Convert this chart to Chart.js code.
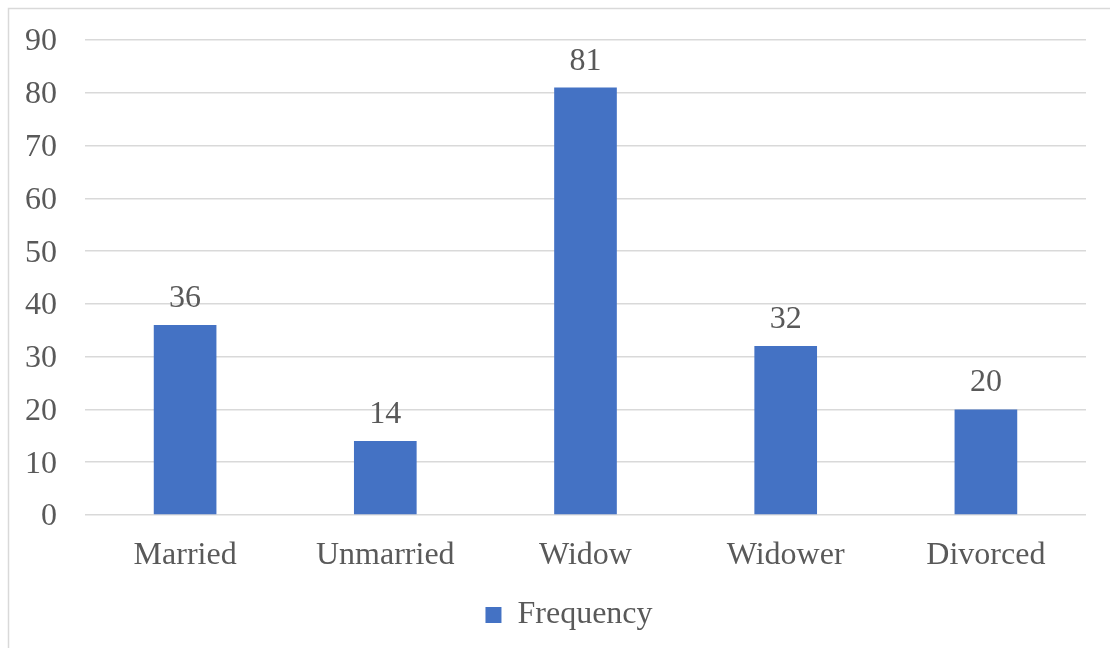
<!DOCTYPE html>
<html>
<head>
<meta charset="utf-8">
<script src="https://cdn.jsdelivr.net/npm/chart.js@4"></script>
<style>
  html, body { margin: 0; padding: 0; background: #ffffff; }
  #wrap { position: relative; width: 1110px; height: 648px; }
</style>
</head>
<body>
<div id="wrap"><canvas id="c"></canvas></div>
<script>
// Marital status counts
const categories = ['Married', 'Unmarried', 'Widow', 'Widower', 'Divorced'];
const frequency = [36, 14, 81, 32, 20];
const seriesName = 'Frequency';
const yTicks = [0, 10, 20, 30, 40, 50, 60, 70, 80, 90];

const FONT = "'Liberation Serif', 'Times New Roman', serif";
const FONT_SIZE = 32;
const TEXT = '#595959';
const GRID = '#d9d9d9';
const BAR = '#4472C4';

// Frame around the chart
const framePlugin = {
  id: 'frame',
  beforeDraw(chart) {
    const ctx = chart.ctx;
    ctx.save();
    ctx.fillStyle = '#ffffff';
    ctx.fillRect(0, 0, chart.width, chart.height);
    ctx.strokeStyle = GRID;
    ctx.lineWidth = 1.5;
    ctx.strokeRect(8.5, 8.5, chart.width + 20, chart.height + 20);
    ctx.restore();
  }
};

// Centre the legend under the plot area rather than the whole canvas
const legendShift = {
  id: 'legendShift',
  afterLayout(chart) {
    if (chart.legend) chart.legend.left += 52;
  }
};

// Value labels above each bar
const valueLabels = {
  id: 'valueLabels',
  afterDatasetsDraw(chart) {
    const ctx = chart.ctx;
    ctx.save();
    ctx.font = FONT_SIZE + 'px ' + FONT;
    ctx.fillStyle = TEXT;
    ctx.textAlign = 'center';
    ctx.textBaseline = 'alphabetic';
    chart.data.datasets.forEach((ds, di) => {
      chart.getDatasetMeta(di).data.forEach((bar, i) => {
        ctx.fillText(String(ds.data[i]), bar.x, bar.y - 18);
      });
    });
    ctx.restore();
  }
};

new Chart(document.getElementById('c'), {
  type: 'bar',
  data: {
    labels: categories,
    datasets: [{
      label: seriesName,
      data: frequency,
      backgroundColor: BAR,
      borderWidth: 0,
      categoryPercentage: 1,
      barPercentage: 0.313
    }]
  },
  plugins: [framePlugin, legendShift, valueLabels],
  options: {
    responsive: true,
    maintainAspectRatio: false,
    animation: false,
    devicePixelRatio: 1,
    layout: { padding: { top: 40, right: 24, left: 0, bottom: 7 } },
    scales: {
      x: {
        grid: { display: false },
        border: { display: false },
        ticks: { color: TEXT, font: { family: FONT, size: FONT_SIZE }, padding: 13, maxRotation: 0 },
        afterFit(s) { s.height = 74; }
      },
      y: {
        min: 0, max: 90,
        afterBuildTicks(s) { s.ticks = yTicks.map(v => ({ value: v })); },
        grid: { color: GRID, lineWidth: 1.5, drawTicks: false },
        border: { display: false },
        ticks: { color: TEXT, font: { family: FONT, size: FONT_SIZE, lineHeight: 0.5 }, padding: 28, labelOffset: 2 },
        afterFit(s) { s.width = 85; }
      }
    },
    plugins: {
      legend: {
        position: 'bottom',
        labels: {
          color: TEXT,
          font: { family: FONT, size: FONT_SIZE },
          boxWidth: 16,
          boxHeight: 16,
          padding: 10
        }
      },
      tooltip: { enabled: false }
    }
  }
});
</script>
</body>
</html>
